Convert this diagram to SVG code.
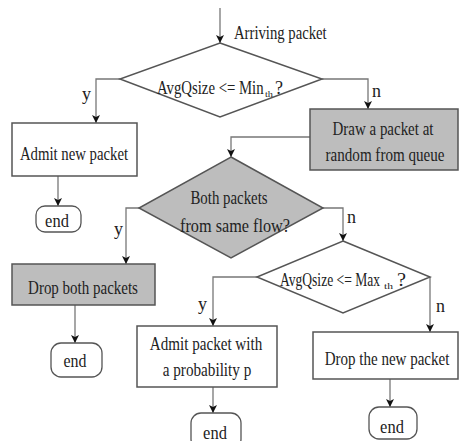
<svg xmlns="http://www.w3.org/2000/svg" width="459" height="441" viewBox="0 0 459 441" font-family="'Liberation Serif', 'DejaVu Serif', serif">
<defs>
<marker id="ah" viewBox="0 0 8 10" refX="8" refY="5" markerWidth="8" markerHeight="10" markerUnits="userSpaceOnUse" orient="auto">
<path d="M0,1 L8,5 L0,9 L2,5 Z" fill="#111"/>
</marker>
</defs>
<style>
text{font-family:'Liberation Serif','DejaVu Serif',serif;font-size:18px;fill:#222;}
.lab{text-anchor:middle;}
.box{fill:#fff;stroke:#555;stroke-width:1.5;}
.gbox{fill:#bdbdbd;stroke:#555;stroke-width:1.5;}
.pill{fill:#fff;stroke:#555;stroke-width:1.3;}
.con{fill:none;stroke:#777;stroke-width:1.3;marker-end:url(#ah);}
text.sub{font-size:9px;}
</style>
<rect width="459" height="441" fill="#fff"/>
<g id="connectors">
<path class="con" d="M220,8 L220,43"/>
<path class="con" d="M120,79 L96,79 L96,123"/>
<path class="con" d="M322,79 L368,79 L368,109"/>
<path class="con" d="M310,137 L231,137 L231,157"/>
<path class="con" d="M58,176 L58,206"/>
<path class="con" d="M139,208 L126,208 L126,264"/>
<path class="con" d="M323,208 L343,208 L343,241"/>
<path class="con" d="M75,305 L75,343"/>
<path class="con" d="M257,277 L213,277 L213,326"/>
<path class="con" d="M430,277 L430,332"/>
<path class="con" d="M213,387 L213,413"/>
<path class="con" d="M390,379 L390,407"/>
<text transform="translate(234,39) scale(0.82,1)" textLength="113" lengthAdjust="spacingAndGlyphs">Arriving packet</text>
<text x="82" y="100">y</text>
<text x="372" y="97">n</text>
<text x="114" y="235">y</text>
<text x="347" y="223">n</text>
<text x="198" y="310">y</text>
<text x="436" y="312">n</text>
</g>
<g id="d1">
<polygon class="box" points="220,43 322,79 220,117 120,79"/>
<text transform="translate(157,94) scale(0.82,1)" textLength="130" lengthAdjust="spacingAndGlyphs">AvgQsize &lt;= Min</text>
<text class="sub" x="265" y="97" textLength="8" lengthAdjust="spacingAndGlyphs">th</text>
<text x="275" y="94" textLength="8" lengthAdjust="spacingAndGlyphs">?</text>
</g>
<g id="admit-new">
<rect class="box" x="12" y="123" width="125" height="53"/>
<text class="lab" transform="translate(74,160) scale(0.82,1)" textLength="132" lengthAdjust="spacingAndGlyphs">Admit new packet</text>
</g>
<g id="draw">
<rect class="gbox" x="310" y="109" width="148" height="61"/>
<text class="lab" transform="translate(383,135) scale(0.82,1)" textLength="123" lengthAdjust="spacingAndGlyphs">Draw a packet at</text>
<text class="lab" transform="translate(385,161) scale(0.82,1)" textLength="145" lengthAdjust="spacingAndGlyphs">random from queue</text>
</g>
<g id="end1">
<rect class="pill" x="36" y="206" width="45" height="26" rx="9"/>
<text class="lab" transform="translate(57,227) scale(0.82,1)" textLength="29" lengthAdjust="spacingAndGlyphs">end</text>
</g>
<g id="d2">
<polygon class="gbox" points="231,157 323,208 231,258 139,208"/>
<text class="lab" transform="translate(229,204) scale(0.82,1)" textLength="94" lengthAdjust="spacingAndGlyphs">Both packets</text>
<text class="lab" transform="translate(235,232) scale(0.82,1)" textLength="134" lengthAdjust="spacingAndGlyphs">from same flow?</text>
</g>
<g id="drop-both">
<rect class="gbox" x="12" y="264" width="143" height="41"/>
<text class="lab" transform="translate(83,294) scale(0.82,1)" textLength="134" lengthAdjust="spacingAndGlyphs">Drop both packets</text>
</g>
<g id="d3">
<polygon class="box" points="343,241 430,277 343,313 257,277"/>
<text transform="translate(280,286) scale(0.82,1)" textLength="122" lengthAdjust="spacingAndGlyphs">AvgQsize &lt;= Max</text>
<text class="sub" x="384" y="289" textLength="9" lengthAdjust="spacingAndGlyphs">th</text>
<text x="397" y="286" textLength="9" lengthAdjust="spacingAndGlyphs">?</text>
</g>
<g id="end2">
<rect class="pill" x="51" y="343" width="51" height="34" rx="10"/>
<text class="lab" transform="translate(75,367) scale(0.82,1)" textLength="28" lengthAdjust="spacingAndGlyphs">end</text>
</g>
<g id="admit-p">
<rect class="box" x="137" y="326" width="140" height="61"/>
<text class="lab" transform="translate(206,350) scale(0.82,1)" textLength="137" lengthAdjust="spacingAndGlyphs">Admit packet with</text>
<text class="lab" transform="translate(207,376) scale(0.82,1)" textLength="108" lengthAdjust="spacingAndGlyphs">a probability p</text>
</g>
<g id="drop-new">
<rect class="box" x="313" y="332" width="145" height="47"/>
<text class="lab" transform="translate(387,365) scale(0.82,1)" textLength="152" lengthAdjust="spacingAndGlyphs">Drop the new packet</text>
</g>
<g id="end3">
<rect class="pill" x="191" y="413" width="50" height="36" rx="10"/>
<text class="lab" transform="translate(215,439) scale(0.82,1)" textLength="29" lengthAdjust="spacingAndGlyphs">end</text>
</g>
<g id="end4">
<rect class="pill" x="369" y="407" width="48" height="32" rx="10"/>
<text class="lab" transform="translate(392,433) scale(0.82,1)" textLength="29" lengthAdjust="spacingAndGlyphs">end</text>
</g>
</svg>
